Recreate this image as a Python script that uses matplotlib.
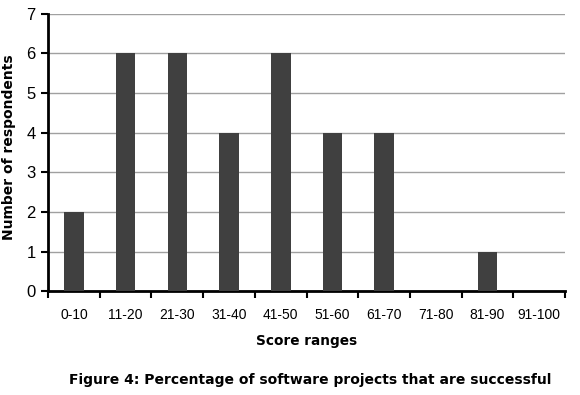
import numpy as np
import matplotlib.pyplot as plt

ranges = ["0-10", "11-20", "21-30", "31-40", "41-50", "51-60", "61-70", "71-80", "81-90", "91-100"]
respondents = [2, 6, 6, 4, 6, 4, 4, 0, 1, 0]

fig = plt.figure(figsize=(5.8, 3.95), dpi=100)
ax = fig.add_axes([0.083, 0.263, 0.891, 0.702])

x = np.arange(len(ranges))
ax.bar(x, respondents, width=0.38, color="#404040", zorder=3)

ax.set_xlim(-0.5, len(ranges) - 0.5)
ax.set_ylim(0, 7)
ax.set_yticks(range(8))
ax.yaxis.grid(True, color="#a0a0a0", linewidth=1, zorder=0)

# ticks sit on the category boundaries, labels in the middle
ax.set_xticks(np.arange(len(ranges) + 1) - 0.5)
ax.set_xticklabels([])
ax.set_xticks(x, minor=True)
ax.set_xticklabels(ranges, minor=True, fontfamily="Liberation Sans", fontsize=10)
ax.tick_params(axis="x", which="minor", length=0, pad=12)
ax.tick_params(axis="x", which="major", direction="out", length=5, width=1.5)
ax.tick_params(axis="y", direction="out", length=5, width=1.5, labelsize=12, pad=4)
for lab in ax.get_yticklabels():
    lab.set_fontfamily("Liberation Sans")

for s in ["top", "right"]:
    ax.spines[s].set_visible(False)
ax.spines["left"].set_linewidth(2)
ax.spines["bottom"].set_linewidth(2)

ax.set_xlabel("Score ranges", fontsize=9.8, fontweight="bold", labelpad=9)
ax.set_ylabel("Number of respondents", fontsize=10, fontweight="bold")
ax.yaxis.set_label_coords(-0.062, 0.52)

fig.text(0.535, 0.027, "Figure 4: Percentage of software projects that are successful",
         ha="center", fontsize=10, fontweight="bold")

fig.savefig("out.png", dpi=100)
